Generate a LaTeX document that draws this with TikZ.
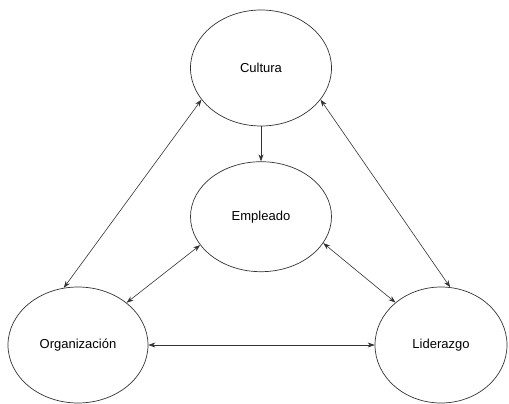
\documentclass[tikz,border=0pt]{standalone}
\usepackage{fontspec}
\setmainfont{Liberation Sans}
\usetikzlibrary{arrows.meta,positioning,shapes.geometric}

\begin{document}
\begin{tikzpicture}[
    x=1pt, y=-1pt,
    node distance=35pt,
    factor/.style={draw=black!80, ellipse, line width=0.7pt, inner sep=0pt, minimum width=141pt, minimum height=116pt, font=\fontsize{13}{15}\selectfont},
    every path/.style={>={Stealth[length=7pt,width=5pt]}},
    link/.style={<->, line width=0.6pt, draw=black!80}]
    \useasboundingbox (0,0) rectangle (509,404);
    \node[factor] (cul) at (261,68) {Cultura};
    \node[factor, below=of cul, minimum height=110pt] (emp) {Empleado};
    \node[factor, minimum width=140pt] (org) at (78,345) {Organización};
    \node[factor, minimum width=132pt] (lid) at (441,345) {Liderazgo};
    \draw[link] (cul.208) -- (org.104); \draw[link] (cul.332) -- (lid.81);
    \draw[link, ->] (cul.south) -- (emp.north);
    \draw[link] (emp.205) -- (org.41); \draw[link] (emp.337) -- (lid.137);
    \draw[link] (org.east) -- (lid.west);
\end{tikzpicture}
\end{document}
